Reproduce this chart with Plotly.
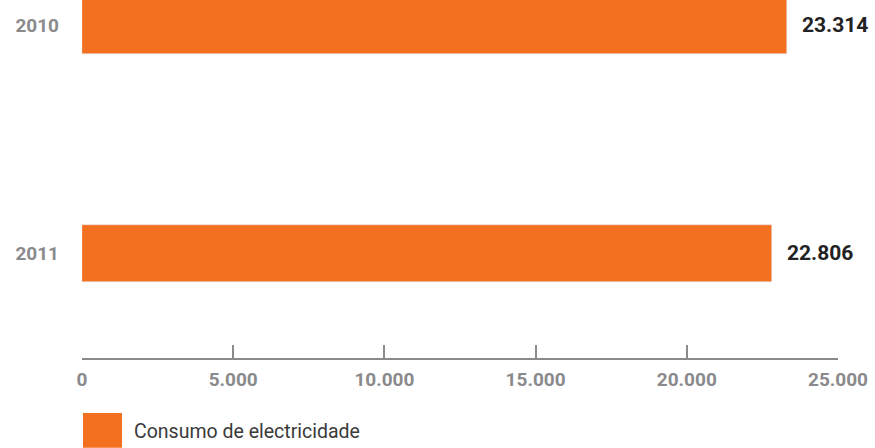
import plotly.graph_objects as go

years = ["2010", "2011"]
consumo = [23314, 22806]
value_labels = ["23.314", "22.806"]
tick_vals = [0, 5000, 10000, 15000, 20000, 25000]
tick_text = ["0", "5.000", "10.000", "15.000", "20.000", "25.000"]
series_name = "Consumo de electricidade"

ORANGE = "#F37021"
GRAY = "#8a8a8c"
FONT = "Roboto"

fig = go.Figure()
fig.add_trace(go.Bar(
    y=years, x=consumo, orientation="h", marker_color=ORANGE,
    width=0.25, showlegend=False, name=series_name,
))

for i, (x, t) in enumerate(zip(consumo, value_labels)):
    fig.add_annotation(x=x, y=i, text=t, showarrow=False, xanchor="left",
                       xshift=13, font=dict(family=FONT, size=21, color="#222222", weight="bold"),
                       xref="x", yref="y")

# legend
fig.add_shape(type="rect", xref="paper", yref="paper",
              x0=0.0013, x1=0.0529, y0=-0.251, y1=-0.1536,
              fillcolor=ORANGE, line_width=0)
fig.add_annotation(xref="paper", yref="paper", x=0.0655, y=-0.205,
                   text=series_name, showarrow=False, xanchor="left", yanchor="middle",
                   font=dict(family=FONT, size=19.5, color="#3a3a3a"))

fig.update_layout(
    width=875, height=448,
    margin=dict(l=82, r=37, t=0, b=90),
    plot_bgcolor="white", paper_bgcolor="white",
    bargap=0,
    xaxis=dict(range=[0, 25000], tickvals=tick_vals, ticktext=tick_text,
               showgrid=False, zeroline=False, showline=True, linecolor=GRAY,
               linewidth=2, ticks="inside", ticklen=13, tickwidth=2, tickcolor=GRAY,
               tickfont=dict(family=FONT, size=19, color=GRAY, weight="bold"),
               ticklabelstandoff=3),
    yaxis=dict(type="category", range=[1.46, -0.11], showgrid=False,
               zeroline=False, showline=False, ticks="",
               tickfont=dict(family=FONT, size=19, color=GRAY, weight="bold"),
               ticklabelstandoff=22),
)

fig.write_html("out.html", config={"displayModeBar": False},
               post_script="document.body.style.margin='0';")
